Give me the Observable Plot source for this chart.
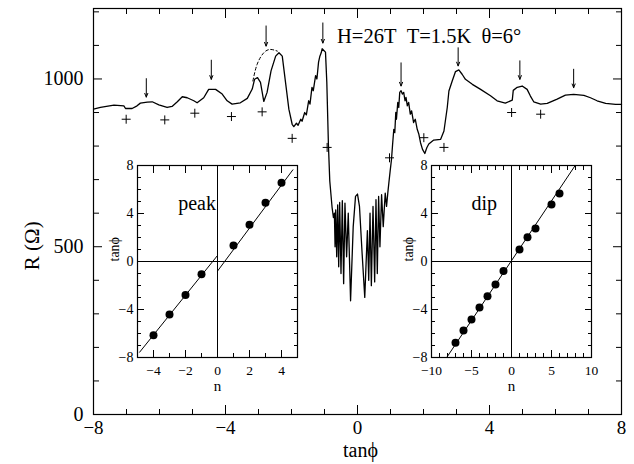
<!DOCTYPE html>
<html><head><meta charset="utf-8">
<script src="https://cdn.jsdelivr.net/npm/d3@7"></script>
<script src="https://cdn.jsdelivr.net/npm/@observablehq/plot@0.6"></script>
<style>
body{margin:0;background:#fff;}
#wrap{position:relative;width:634px;height:464px;}
.inset{position:absolute;}
</style></head><body><div id="wrap"></div>
<script>
// ---- main trace: R(Ω) vs tanφ ----
const tanPhi = [-8.00,-7.79,-7.38,-7.08,-7.03,-6.83,-6.68,-6.58,-6.37,-6.22,-6.02,-5.77,-5.62,-5.46,-5.31,-5.16,-4.96,-4.86,-4.66,-4.51,-4.30,-4.10,-3.95,-3.80,-3.55,-3.34,-3.19,-3.12,-3.03,-2.94,-2.84,-2.74,-2.62,-2.48,-2.38,-2.28,-2.18,-2.08,-1.98,-1.93,-1.85,-1.80,-1.72,-1.68,-1.60,-1.55,-1.48,-1.44,-1.38,-1.34,-1.27,-1.23,-1.18,-1.14,-1.10,-1.07,-1.02,-0.97,-0.93,-0.88,-0.84,-0.77,-0.73,-0.70,-0.68,-0.66,-0.63,-0.60,-0.57,-0.54,-0.50,-0.46,-0.42,-0.38,-0.33,-0.28,-0.21,-0.13,-0.06,0.00,0.06,0.14,0.22,0.26,0.30,0.34,0.38,0.42,0.47,0.52,0.56,0.60,0.64,0.68,0.73,0.78,0.84,0.88,0.92,0.95,0.99,1.03,1.06,1.10,1.13,1.16,1.18,1.22,1.25,1.28,1.32,1.36,1.40,1.44,1.47,1.51,1.55,1.60,1.64,1.70,1.75,1.81,1.86,1.91,1.97,2.04,2.10,2.16,2.31,2.52,2.62,2.72,2.77,2.87,2.97,3.07,3.17,3.27,3.48,3.73,4.03,4.23,4.48,4.69,4.72,4.84,4.99,5.14,5.24,5.34,5.55,5.75,6.05,6.30,6.55,6.86,7.06,7.26,7.52,7.82,8.00];
const resistance = [910,915,922,920,912,912,920,928,931,932,923,915,918,932,947,944,935,929,944,969,969,955,935,925,929,942,970,999,1004,990,933,960,1024,1068,1078,1068,989,910,865,858,868,862,880,874,900,893,935,925,975,965,1010,1000,1050,1068,1078,1090,1085,1080,990,800,696,617,587,600,500,610,470,625,440,632,420,637,390,630,470,600,339,560,650,657,620,480,349,450,548,400,600,384,620,395,640,420,650,500,655,560,660,620,662,690,726,760,800,850,840,900,880,930,915,960,965,955,960,935,945,920,930,895,905,870,880,850,835,810,790,778,795,806,818,820,845,915,964,994,1022,1027,1014,999,984,969,950,935,928,937,966,975,979,969,949,932,925,927,940,952,954,951,944,935,927,924,924];

// dashed extrapolated peak
const dashTan = [-3.17,-3.04,-2.84,-2.64,-2.43];
const dashR = [994,1044,1078,1088,1083];

// "+" markers (dips)
const plusTan = [-7.01,-5.84,-4.93,-3.82,-2.89,-1.98,-0.92,0.97,2.01,2.62,4.67,5.55];
const plusR = [880,878,898,888,902,823,796,765,825,796,900,895];

// arrows (peaks)
const arrowTan = [-6.40,-4.43,-2.77,-1.05,1.32,3.05,4.92,6.55];
const arrowTop = [1001,1056,1158,1167,1048,1093,1054,1029];
const arrowTip = [946,999,1098,1107,979,1039,999,974];

// main ticks
const xMajor = [-8,-4,0,4,8];
const xMinor = [-7,-6,-5,-3,-2,-1,1,2,3,5,6,7];
const yMajor = [0,500,1000];
const yMinor = [100,200,300,400,600,700,800,900,1100,1200];

// inset: peak
const peakN = [-4,-3,-2,-1,1,2,3,4];
const peakTan = [-6.14,-4.42,-2.80,-1.06,1.33,3.06,4.89,6.56];
const peakFitN = [-4.87,0,0,4.71];
const peakFitTan = [-7.56,0.5,-0.8,7.64];
const peakNMajor = [-4,-2,0,2,4];
const peakNMinor = [-3,-1,1,3];

// inset: dip
const dipN = [-7,-6,-5,-4,-3,-2,-1,1,2,3,5,6];
const dipTan = [-6.78,-5.75,-4.83,-3.83,-2.89,-1.92,-0.80,1.00,2.03,2.75,4.75,5.67];
const dipFitN = [-8.1,7.96];
const dipFitTan = [-8,8];
const dipNMajor = [-10,-5,0,5,10];
const dipNMinor = [-9,-8,-7,-6,-4,-3,-2,-1,1,2,3,4,6,7,8,9];

const insetTMajor = [-8,-4,0,4,8];
const insetTMinor = [-7,-6,-5,-3,-2,-1,1,2,3,5,6,7];

const serif = '"Liberation Serif","DejaVu Serif","Times New Roman",serif';
const fmt = d => d < 0 ? "\u2212" + Math.abs(d) : String(d);
const blank = () => "";
const zip = (a, b, ka, kb) => a.map((v, i) => ({[ka]: v, [kb]: b[i]}));

const curve = zip(tanPhi, resistance, "t", "r");
const dash = zip(dashTan, dashR, "t", "r");
const plus = zip(plusTan, plusR, "t", "r");
const arrows = arrowTan.map((t, i) => ({t, top: arrowTop[i], tip: arrowTip[i]}));

const main = Plot.plot({
  width: 634, height: 464,
  marginLeft: 93, marginRight: 13, marginTop: 8, marginBottom: 50,
  style: {fontFamily: serif, fontSize: "20px", background: "transparent", color: "black"},
  x: {domain: [-8, 8]},
  y: {domain: [0, 1210]},
  marks: [
    Plot.axisX(xMajor, {tickSize: -9, tickPadding: 15, tickFormat: fmt, label: null, fontSize: 19}),
    Plot.axisX(xMinor, {tickSize: -5, tickFormat: blank, label: null}),
    Plot.axisX(xMajor, {anchor: "top", tickSize: -9, tickFormat: blank, label: null}),
    Plot.axisX(xMinor, {anchor: "top", tickSize: -5, tickFormat: blank, label: null}),
    Plot.axisY(yMajor, {tickSize: -9, tickPadding: 19, tickFormat: fmt, label: null, fontSize: 20}),
    Plot.axisY(yMinor, {tickSize: -6, tickFormat: blank, label: null}),
    Plot.axisY(yMajor, {anchor: "right", tickSize: -9, tickFormat: blank, label: null}),
    Plot.axisY(yMinor, {anchor: "right", tickSize: -6, tickFormat: blank, label: null}),
    Plot.frame({strokeWidth: 1.2}),
    Plot.line(curve, {x: "t", y: "r", stroke: "black", strokeWidth: 1.3}),
    Plot.line(dash, {x: "t", y: "r", stroke: "black", strokeWidth: 1, strokeDasharray: "3,2.5", curve: "natural"}),
    Plot.dot(plus, {x: "t", y: "r", symbol: "plus", r: 3, stroke: "black", strokeWidth: 1}),
    Plot.arrow(arrows, {x1: "t", x2: "t", y1: "top", y2: "tip", headLength: 6, headAngle: 45, stroke: "black", strokeWidth: 1}),
    Plot.text(["H=26T\u00a0\u00a0T=1.5K\u00a0\u00a0θ=6°"], {x: -0.62, y: 1127, textAnchor: "start", fontSize: 20.5}),
    Plot.text(["R (Ω)"], {x: -8, y: 503, dx: -61, rotate: -90, fontSize: 21}),
    Plot.text(["tanϕ"], {x: 0.09, frameAnchor: "bottom", dy: 42, lineAnchor: "bottom", fontSize: 20})
  ]
});
document.getElementById("wrap").appendChild(main);

function inset({xDomain, nMajor, nMinor, pts, fit, word, wordX, wordAnchor}) {
  return Plot.plot({
    width: 216, height: 240,
    marginLeft: 40, marginRight: 16, marginTop: 8, marginBottom: 40,
    style: {fontFamily: serif, fontSize: "14px", background: "transparent", color: "black"},
    x: {domain: xDomain},
    y: {domain: [-8, 8]},
    marks: [
      Plot.ruleY([0], {stroke: "black", strokeWidth: 1}),
      Plot.ruleX([0], {stroke: "black", strokeWidth: 1}),
      Plot.axisX(nMajor, {tickSize: -7, tickPadding: 15, tickFormat: fmt, label: null, fontSize: 13.5}),
      Plot.axisX(nMinor, {tickSize: -4, tickFormat: blank, label: null}),
      Plot.axisX(nMajor, {anchor: "top", tickSize: -7, tickFormat: blank, label: null}),
      Plot.axisX(nMinor, {anchor: "top", tickSize: -4, tickFormat: blank, label: null}),
      Plot.axisY(insetTMajor, {tickSize: -7, tickPadding: 11, tickFormat: fmt, label: null, fontSize: 14}),
      Plot.axisY(insetTMinor, {tickSize: -4, tickFormat: blank, label: null}),
      Plot.axisY(insetTMajor, {anchor: "right", tickSize: -7, tickFormat: blank, label: null}),
      Plot.axisY(insetTMinor, {anchor: "right", tickSize: -4, tickFormat: blank, label: null}),
      Plot.frame({strokeWidth: 1.2}),
      Plot.line(fit, {x: "n", y: "t", stroke: "black", strokeWidth: 1}),
      Plot.dot(pts, {x: "n", y: "t", r: 4, fill: "black"}),
      Plot.text([word], {x: wordX, y: 4.8, textAnchor: wordAnchor, fontSize: 20}),
      Plot.text(["n"], {x: 0, frameAnchor: "bottom", dy: 33, fontSize: 15}),
      Plot.text(["tanϕ"], {frameAnchor: "left", dx: -23, rotate: -90, fontSize: 14})
    ]
  });
}

const peakPlot = inset({
  xDomain: [-5, 5], nMajor: peakNMajor, nMinor: peakNMinor,
  pts: zip(peakN, peakTan, "n", "t"), fit: zip(peakFitN, peakFitTan, "n", "t"),
  word: "peak", wordX: -0.1, wordAnchor: "end"
});
peakPlot.classList.add("inset");
peakPlot.style.left = "97px"; peakPlot.style.top = "157px";
document.getElementById("wrap").appendChild(peakPlot);

const dipPlot = inset({
  xDomain: [-10, 10], nMajor: dipNMajor, nMinor: dipNMinor,
  pts: zip(dipN, dipTan, "n", "t"), fit: zip(dipFitN, dipFitTan, "n", "t"),
  word: "dip", wordX: -3.4, wordAnchor: "middle"
});
dipPlot.classList.add("inset");
dipPlot.style.left = "391px"; dipPlot.style.top = "157px";
document.getElementById("wrap").appendChild(dipPlot);
</script>
</body></html>
